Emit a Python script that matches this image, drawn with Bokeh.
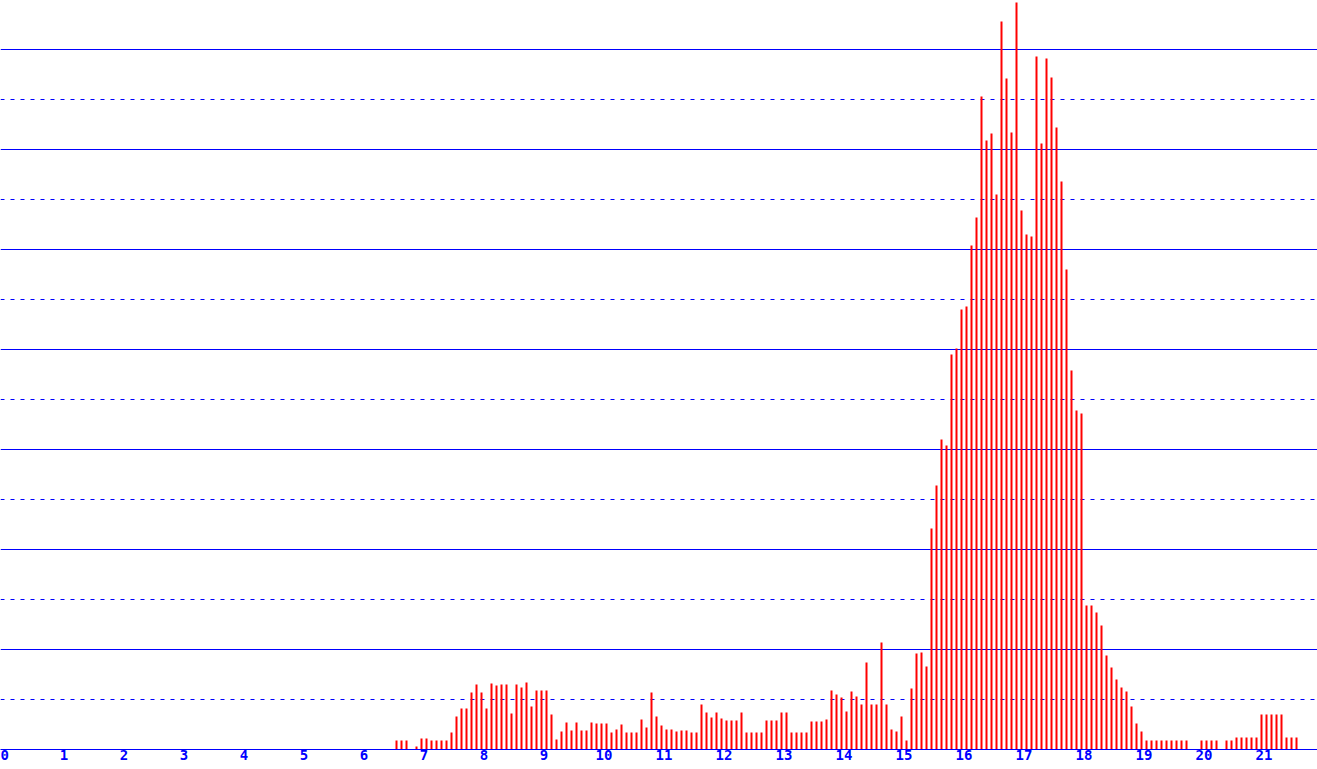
from bokeh.plotting import figure
from bokeh.models import FixedTicker, Grid, ColumnDataSource, Range1d
from bokeh.embed import file_html
from bokeh.resources import INLINE

# Histogram: bins of width 1/12, first non-empty bin index 78 (x = 6.5 .. 6.583)
bin_width = 1 / 12
first_bin = 78
values = [
    9, 9, 9, 0, 3, 11, 11, 9, 9, 9, 9, 17, 33, 41, 41, 57, 65, 57, 41, 66,
    64, 65, 65, 36, 65, 62, 67, 43, 59, 59, 59, 35, 10, 18, 27, 19, 27, 19, 19, 27,
    26, 26, 26, 17, 20, 25, 17, 17, 17, 30, 22, 57, 33, 24, 20, 20, 18, 19, 19, 17,
    17, 45, 37, 32, 37, 31, 29, 29, 29, 37, 17, 17, 17, 17, 29, 29, 29, 37, 37, 17,
    17, 17, 17, 28, 28, 28, 30, 59, 55, 52, 38, 58, 53, 45, 87, 45, 45, 107, 45, 20,
    18, 33, 9, 61, 96, 97, 83, 221, 264, 310, 304, 395, 401, 440, 443, 504, 532, 653, 609, 616,
    555, 728, 671, 617, 747, 539, 515, 513, 693, 606, 691, 672, 622, 568, 480, 379, 339, 336, 144, 144,
    137, 124, 94, 82, 70, 62, 58, 43, 26, 18, 9, 9, 9, 9, 9, 9, 9, 9, 9, 0,
    0, 9, 9, 9, 9, 0, 9, 9, 12, 12, 12, 12, 12, 35, 35, 35, 35, 35, 12, 12,
    12,
]
tick_values = list(range(22))
tick_labels = [str(t) for t in tick_values]
solid_grid = [100, 200, 300, 400, 500, 600, 700]
dashed_grid = [50, 150, 250, 350, 450, 550, 650]

centers = [(first_bin + i + 0.5) * bin_width for i in range(len(values))]
src = ColumnDataSource(data=dict(x=centers, top=values))

W, H = 1317, 769
px_per_unit = 60
x0 = -3.5 / px_per_unit

p = figure(
    width=W, height=H, output_backend="svg", toolbar_location=None,
    x_range=Range1d(x0, x0 + W / px_per_unit), y_range=Range1d(0, 749),
    min_border_left=0, min_border_right=0, min_border_top=0, min_border_bottom=20,
    y_axis_location=None, outline_line_color=None,
    background_fill_color="white", border_fill_color="white",
)
p.xgrid.visible = False
p.ygrid.visible = False

p.add_layout(Grid(dimension=1, ticker=FixedTicker(ticks=solid_grid),
                  grid_line_color="#0000FF", grid_line_width=1))
p.add_layout(Grid(dimension=1, ticker=FixedTicker(ticks=dashed_grid),
                  grid_line_color="#0000FF", grid_line_width=1, grid_line_dash="4 6"))

p.vbar(x="x", top="top", bottom=0, width=2 / px_per_unit, source=src,
       fill_color="#FF0000", line_color=None)

ax = p.xaxis[0]
ax.ticker = FixedTicker(ticks=tick_values)
ax.major_label_overrides = {t: l for t, l in zip(tick_values, tick_labels)}
ax.axis_line_color = "#0000FF"
ax.axis_line_width = 1
ax.major_tick_line_color = None
ax.minor_tick_line_color = None
ax.major_tick_out = 0
ax.major_tick_in = 0
ax.major_label_standoff = 0
ax.major_label_text_color = "#0000FF"
ax.major_label_text_font = "DejaVu Sans Mono"
ax.major_label_text_font_style = "bold"
ax.major_label_text_font_size = "14px"

open("out.html", "w").write(file_html(p, INLINE))
